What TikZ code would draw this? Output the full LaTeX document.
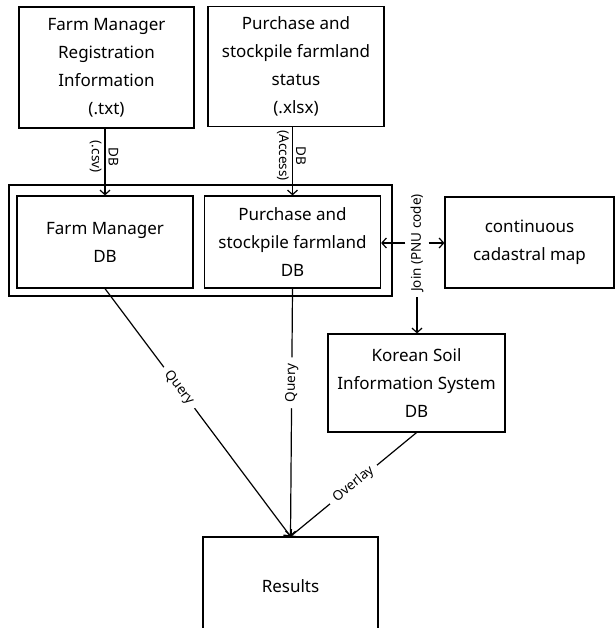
\documentclass[tikz,border=0pt]{standalone}
\usepackage{fontspec}
\setmainfont{Noto Sans}
\usetikzlibrary{arrows.meta}
\begin{document}
\begin{tikzpicture}[
		x=1pt, y=-1pt,
		box/.style={draw, line width=1.2pt, align=center, inner sep=2pt,
			font=\fontsize{17}{28}\selectfont},
		lbl/.style={font=\fontsize{13.5}{15}\selectfont, inner sep=2pt},
		side lbl/.style={lbl, sloped, pos=0.42},
		gap/.style={lbl, fill=white, sloped},
		link/.style={line width=1.2pt},
		arr/.style={link, -{Straight Barb[length=4.5pt, width=10pt, line width=1.2pt]}}
		]
		\useasboundingbox (0,0) rectangle (615,628);
		
		% ---------------------------------------------------------
		% Source files
		% ---------------------------------------------------------
		\node[box, minimum width=175, minimum height=121] (reg) at (106.5,67.5)
			{Farm Manager\\Registration\\Information\\(.txt)};
		\node[box, minimum width=176, minimum height=120] (status) at (296,66.5)
			{Purchase and\\stockpile farmland\\status\\(.xlsx)};
		
		% ---------------------------------------------------------
		% Databases
		% ---------------------------------------------------------
		\node[box, minimum width=383, minimum height=111] (dbgroup) at (200.5,240.5) {};
		\node[box, minimum width=176, minimum height=92] (fmdb) at (105,242)
			{Farm Manager\\DB};
		\node[box, minimum width=176, minimum height=92] (pdb) at (292.5,242)
			{Purchase and\\stockpile farmland\\DB};
		
		\node[box, minimum width=169, minimum height=91] (cad) at (529.5,242.5)
			{continuous\\cadastral map};
		\node[box, minimum width=177, minimum height=98] (soil) at (416.5,383)
			{Korean Soil\\Information System\\DB};
		\node[box, minimum width=175, minimum height=98] (results) at (290.5,586)
			{Results};
		
		% ---------------------------------------------------------
		% Import into DB
		% ---------------------------------------------------------
		\draw[arr] (reg.south -| fmdb.north) --
			node[side lbl, above=1pt] {DB}
			node[side lbl, below=1pt] {(.csv)} (fmdb.north);
		\draw[arr] (status.south -| pdb.north) --
			node[side lbl, above=1pt] {DB}
			node[side lbl, below=1pt] {(Access)} (pdb.north);
		
		% ---------------------------------------------------------
		% Join (PNU code)
		% ---------------------------------------------------------
		\node[lbl, rotate=90, fill=white, inner xsep=5pt, inner ysep=5pt] (join) at (417,243)
			{Join (PNU code)};
		\draw[arr] (join) -- (pdb.east |- join);
		\draw[arr] (join) -- (cad.west |- join);
		\draw[arr] (join) -- (join |- soil.north);
		
		% ---------------------------------------------------------
		% Query / Overlay to results
		% ---------------------------------------------------------
		\draw[arr] (fmdb.south) -- node[gap, pos=0.4, inner xsep=6pt] {Query} (results.north);
		\draw[arr] (pdb.south) -- node[gap, pos=0.38, inner xsep=6pt] {Query} (results.north);
		\draw[arr] (soil.south) -- node[gap, inner xsep=6pt] {Overlay} (results.north);
		
	\end{tikzpicture}
\end{document}
